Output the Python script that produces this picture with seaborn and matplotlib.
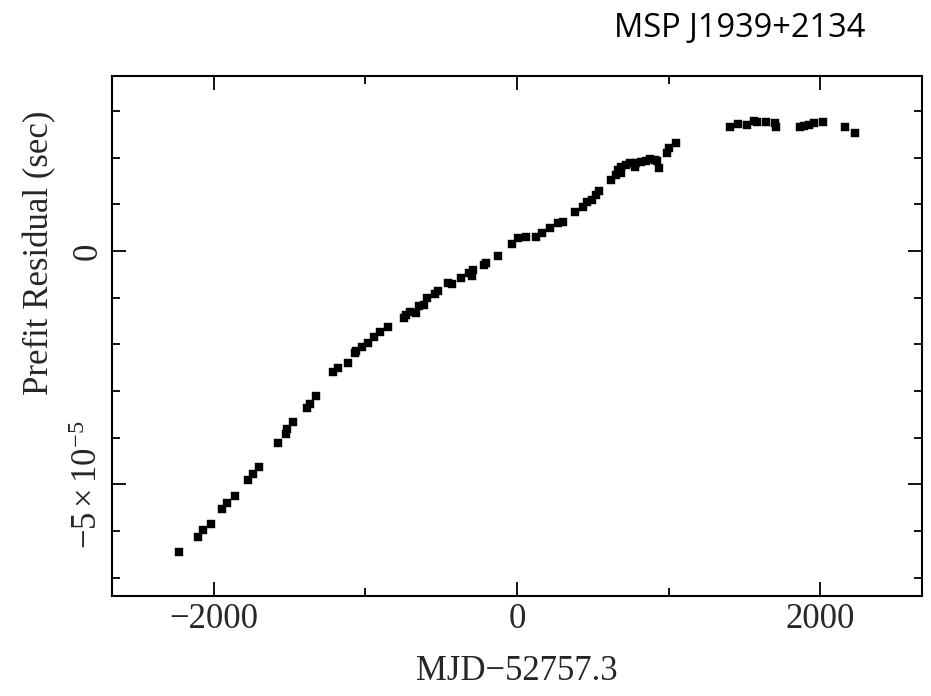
import numpy as np
import pandas as pd
import matplotlib
matplotlib.use("Agg")
import matplotlib.pyplot as plt
import seaborn as sns
from matplotlib.ticker import MultipleLocator, FuncFormatter

# Days relative to MJD 52757.3
mjd_offset = [
    -2228.4, -2103.1, -2070.1, -2021.4, -1948.8, -1911.9, -1861.2, -1773.5,
    -1740.5, -1701.0, -1575.7, -1524.9, -1516.4, -1480.8, -1388.5, -1366.7,
    -1329.1, -1217.0, -1180.1, -1114.2, -1070.0, -1063.4, -1025.8, -982.3,
    -942.8, -905.2, -850.5, -745.0, -733.8, -707.4, -663.2, -646.1,
    -615.1, -593.4, -542.6, -520.8, -454.9, -425.9, -366.6, -316.5,
    -290.1, -294.0, -219.5, -201.7, -125.3, -30.3, 6.6, 62.0,
    127.9, 167.5, 215.6, 270.3, 303.3, 380.4, 435.1, 461.5,
    497.1, 518.9, 540.6, 622.4, 655.3, 665.9, 688.3, 688.3,
    721.3, 743.0, 776.0, 787.2, 820.1, 853.1, 874.9, 907.8,
    923.0, 936.2, 988.9, 1002.1, 1046.3, 1402.3, 1457.0, 1519.0,
    1560.5, 1582.3, 1639.6, 1703.6, 1705.6, 1868.4, 1896.8, 1929.7,
    1962.7, 2022.0, 2167.1, 2228.4,
]
# Prefit residuals in units of 1e-5 s
residual_1e5 = [
    -6.456, -6.122, -5.978, -5.850, -5.528, -5.393, -5.243, -4.907,
    -4.778, -4.635, -4.120, -3.921, -3.820, -3.664, -3.358, -3.285,
    -3.107, -2.586, -2.513, -2.406, -2.192, -2.136, -2.051, -1.965,
    -1.836, -1.742, -1.622, -1.442, -1.371, -1.301, -1.335, -1.178,
    -1.157, -1.013, -0.921, -0.851, -0.692, -0.707, -0.585, -0.465,
    -0.407, -0.536, -0.300, -0.264, -0.107, 0.150, 0.272, 0.306,
    0.306, 0.379, 0.486, 0.594, 0.628, 0.829, 0.936, 1.043,
    1.093, 1.200, 1.286, 1.521, 1.628, 1.736, 1.665, 1.806,
    1.843, 1.892, 1.806, 1.879, 1.913, 1.935, 1.965, 1.950,
    1.928, 1.772, 2.093, 2.201, 2.308, 2.651, 2.721, 2.700,
    2.792, 2.771, 2.771, 2.736, 2.663, 2.663, 2.678, 2.700,
    2.736, 2.771, 2.651, 2.522,
]

title_text = "MSP J1939+2134"
x_label = "MJD\u221252757.3"
y_label = "Prefit Residual (sec)"

sns.set_theme(style="white")
plt.rcParams['font.family'] = ['Liberation Serif', 'DejaVu Serif']
plt.rcParams['mathtext.fontset'] = 'custom'
plt.rcParams['mathtext.rm'] = 'Liberation Serif'
plt.rcParams['mathtext.it'] = 'Liberation Serif:italic'
plt.rcParams['axes.unicode_minus'] = True

df = pd.DataFrame({"x": mjd_offset, "y": np.array(residual_1e5) * 1e-5})

W, H = 931, 696
fig = plt.figure(figsize=(W / 100, H / 100), dpi=100)
fig.patch.set_facecolor("white")
ax = fig.add_axes([111.7 / W, 1 - 596 / H, (922.3 - 111.7) / W, (596 - 76) / H])

sns.scatterplot(data=df, x="x", y="y", marker="s", s=38, color="black",
                edgecolor="black", linewidth=0.3, ax=ax, legend=False)

ax.set_xlim(-2674, 2674)
ax.set_ylim(-7.39e-5, 3.75e-5)

ax.xaxis.set_major_locator(MultipleLocator(2000))
ax.xaxis.set_minor_locator(MultipleLocator(1000))
ax.yaxis.set_major_locator(MultipleLocator(5e-5))
ax.yaxis.set_minor_locator(MultipleLocator(1e-5))

def xfmt(v, pos):
    return "\u2212%d" % abs(round(v)) if v < 0 else "%d" % round(v)

def yfmt(v, pos):
    m = round(v / 1e-5)
    if m == 0:
        return "0"
    return r"$%d\times10^{-5}$" % m

ax.xaxis.set_major_formatter(FuncFormatter(xfmt))
ax.yaxis.set_major_formatter(FuncFormatter(yfmt))

for s in ax.spines.values():
    s.set_visible(True)
    s.set_color("black")
    s.set_linewidth(1.5)

ax.tick_params(which="both", direction="in", top=True, right=True,
               bottom=True, left=True, color="black", width=1.3)
ax.tick_params(which="major", length=10)
ax.tick_params(which="minor", length=5.5)
ax.tick_params(axis="x", which="major", labelsize=25, pad=5)
ax.tick_params(axis="y", which="major", labelsize=25, pad=5, labelrotation=90)

ax.set_xlabel(x_label, fontsize=25, va="center")
ax.set_ylabel(y_label, fontsize=25, va="center")
ax.xaxis.set_label_coords(0.5, -0.145)
ax.yaxis.set_label_coords(-0.0885, 0.66)

fig.canvas.draw()
for lbl in ax.get_yticklabels():
    lbl.set_verticalalignment("center")

fig.text(865 / W, 1 - 37.3 / H, title_text, ha="right", va="baseline",
         fontsize=23.5, family=["Open Sans", "DejaVu Sans"], color="black")

fig.savefig("out.png", dpi=100, facecolor="white")
